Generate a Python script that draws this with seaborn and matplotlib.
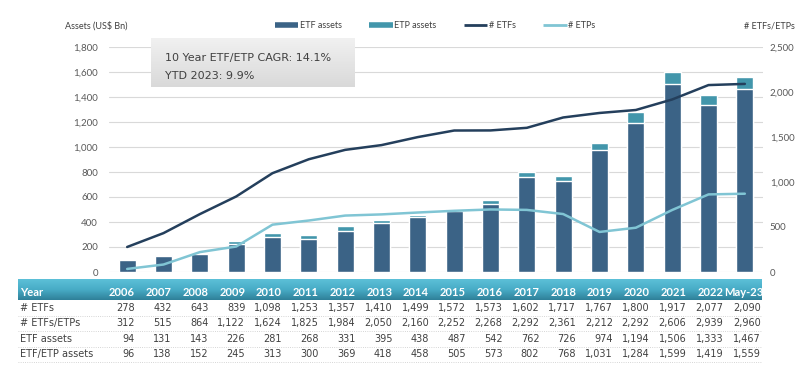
import numpy as np
import pandas as pd
import matplotlib.pyplot as plt
import seaborn as sns
from matplotlib.lines import Line2D
from matplotlib.ticker import FuncFormatter
from matplotlib.colors import LinearSegmentedColormap

years = ["2006", "2007", "2008", "2009", "2010", "2011", "2012", "2013", "2014",
         "2015", "2016", "2017", "2018", "2019", "2020", "2021", "2022", "May-23"]
n_etfs = [278, 432, 643, 839, 1098, 1253, 1357, 1410, 1499,
          1572, 1573, 1602, 1717, 1767, 1800, 1917, 2077, 2090]
n_etfs_etps = [312, 515, 864, 1122, 1624, 1825, 1984, 2050, 2160,
               2252, 2268, 2292, 2361, 2212, 2292, 2606, 2939, 2960]
etf_assets = [94, 131, 143, 226, 281, 268, 331, 395, 438,
              487, 542, 762, 726, 974, 1194, 1506, 1333, 1467]
etf_etp_assets = [96, 138, 152, 245, 313, 300, 369, 418, 458,
                  505, 573, 802, 768, 1031, 1284, 1599, 1419, 1559]
cagr_text = "10 Year ETF/ETP CAGR: 14.1%"
ytd_text = "YTD 2023: 9.9%"

df = pd.DataFrame({"year": years, "n_etfs": n_etfs, "n_etfs_etps": n_etfs_etps,
                   "etf_assets": etf_assets, "etf_etp_assets": etf_etp_assets})
df["n_etps"] = df["n_etfs_etps"] - df["n_etfs"]
pos = np.arange(len(df))

dark_bar = "#3b6386"
teal_bar = "#4296ab"
dark_line = "#243f5c"
light_line = "#80c5d4"
txt = "#404040"
W, H = 800, 373

sns.set_style("white")
plt.rcParams["font.family"] = ["DejaVu Sans"]
fig = plt.figure(figsize=(8, 3.73), dpi=100)

ax = fig.add_axes([109 / W, 101 / H, 654 / W, 225 / H])
sns.barplot(data=df, x="year", y="etf_etp_assets", color=teal_bar, saturation=1, width=0.47, ax=ax)
sns.barplot(data=df, x="year", y="etf_assets", color=dark_bar, saturation=1, width=0.47, ax=ax)
ax.set_ylim(0, 1800)
ax.set_yticks(range(0, 1801, 200))
ax.yaxis.set_major_formatter(FuncFormatter(lambda v, p: f"{int(v):,}"))
ax.grid(axis="y", color="#d9d9d9", lw=0.8)
ax.set_axisbelow(True)
ax.set_xlabel("")
ax.set_ylabel("")
ax.set_xticks([])
ax.tick_params(axis="y", length=0, pad=8, labelsize=7, labelcolor="#595959")
for lab in ax.get_yticklabels():
    lab.set_family("Lato")
for s in ax.spines.values():
    s.set_visible(False)

ax2 = ax.twinx()
sns.lineplot(x=pos, y=df["n_etfs"], color=dark_line, lw=1.8, ax=ax2)
sns.lineplot(x=pos, y=df["n_etps"], color=light_line, lw=1.8, ax=ax2)
ax2.set_ylim(0, 2500)
ax2.set_yticks(range(0, 2501, 500))
ax2.yaxis.set_major_formatter(FuncFormatter(lambda v, p: f"{int(v):,}"))
ax2.tick_params(axis="y", length=0, pad=5, labelsize=7, labelcolor="#595959")
for lab in ax2.get_yticklabels():
    lab.set_family("Lato")
ax2.set_ylabel("")
for s in ax2.spines.values():
    s.set_visible(False)
ax.set_xlim(-0.5, len(df) - 0.5)

# axis titles and legend
fig.text(65 / W, 1 - 26 / H, "Assets (US$ Bn)", fontsize=6.5, color=txt, family="Lato", va="center")
fig.text(795 / W, 1 - 26 / H, "# ETFs/ETPs", fontsize=6.5, color=txt, family="Lato", va="center", ha="right")
handles = [Line2D([], [], color=dark_bar, lw=4, solid_capstyle="butt"),
           Line2D([], [], color=teal_bar, lw=4, solid_capstyle="butt"),
           Line2D([], [], color=dark_line, lw=2, solid_capstyle="butt"),
           Line2D([], [], color=light_line, lw=2, solid_capstyle="butt")]
fig.legend(handles, ["ETF assets", "ETP assets", "# ETFs", "# ETPs"], loc="center",
           bbox_to_anchor=(0.544, 1 - 26 / H), ncol=4, frameon=False, handlelength=2.6,
           handletextpad=0.2, columnspacing=3.0, prop={"family": "Lato", "size": 6.5}, labelcolor=txt)

# annotation box
bax = fig.add_axes([151 / W, (H - 87) / H, 204 / W, 49 / H])
grad = np.linspace(0, 1, 100).reshape(-1, 1)
bax.imshow(grad, aspect="auto", extent=[0, 1, 0, 1],
           cmap=LinearSegmentedColormap.from_list("g", ["#f1f1f1", "#d9d9d9"]))
bax.text(0.07, 0.6, cagr_text, transform=bax.transAxes, fontsize=8, color=txt, va="center")
bax.text(0.07, 0.22, ytd_text, transform=bax.transAxes, fontsize=8, color=txt, va="center")
bax.set_xlim(0, 1)
bax.set_ylim(0, 1)
bax.axis("off")

# table header band
hax = fig.add_axes([18 / W, (H - 300) / H, 744 / W, 21 / H])
hax.imshow(grad, aspect="auto", extent=[0, 1, 0, 1],
           cmap=LinearSegmentedColormap.from_list("h", ["#5cc0d8", "#48acc6", "#2f8099"]))
hax.set_xlim(0, 1)
hax.set_ylim(0, 1)
hax.axis("off")

col_right = [(135 + i * 36.76) / W for i in range(len(df))]
col_right[-1] = 763 / W
row_y = [(H - 293) / H, (H - 308) / H, (H - 323) / H, (H - 339) / H, (H - 354) / H]
fig.text(20 / W, row_y[0], "Year", fontsize=8, color="white", weight="bold", family="Lato", va="center")
for i, y in enumerate(years):
    fig.text(col_right[i], row_y[0], y, fontsize=8, color="white", weight="bold",
             family="Lato", va="center", ha="right")
rows = [("# ETFs", "n_etfs"), ("# ETFs/ETPs", "n_etfs_etps"),
        ("ETF assets", "etf_assets"), ("ETF/ETP assets", "etf_etp_assets")]
for r, (label, col) in enumerate(rows):
    yy = row_y[r + 1]
    fig.text(20 / W, yy, label, fontsize=7, color=txt, va="center")
    for i, v in enumerate(df[col]):
        fig.text((135 + i * 36.76) / W if i < len(df) - 1 else 761 / W, yy, f"{v:,}",
                 fontsize=7, color=txt, va="center", ha="right")
    sep = yy - 7.5 / H
    fig.add_artist(Line2D([18 / W, 762 / W], [sep, sep], transform=fig.transFigure,
                          ls=":", color="#c8c8c8", lw=0.6))

fig.savefig("out.png", dpi=100, facecolor="white")
